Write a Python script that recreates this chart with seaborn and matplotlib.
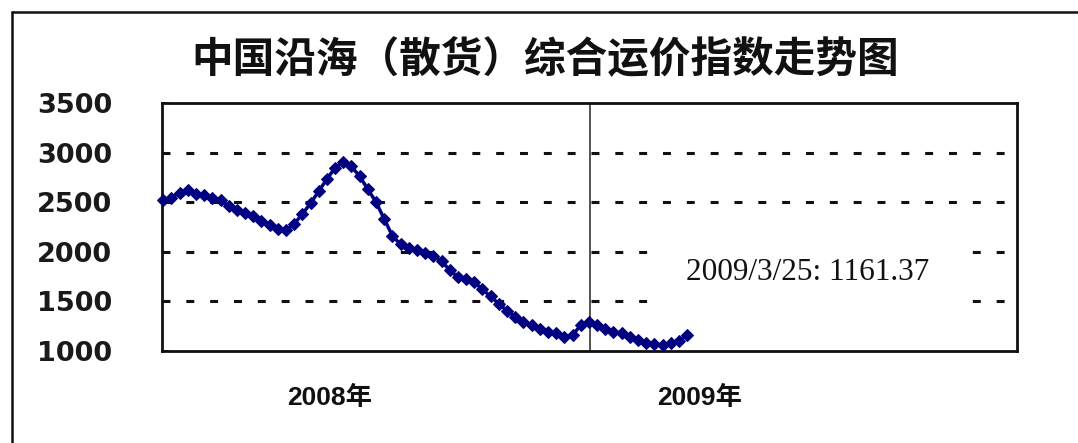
import matplotlib
matplotlib.use("Agg")
import matplotlib.pyplot as plt
from matplotlib.lines import Line2D
import seaborn as sns
import pandas as pd
import numpy as np

# ---------------- data ----------------
start_date = "2008-01-02"
index_values = [
    2525, 2545, 2595, 2620, 2580, 2572, 2545, 2520, 2460, 2425,
    2390, 2360, 2315, 2272, 2225, 2218, 2280, 2380, 2490, 2610,
    2735, 2845, 2905, 2860, 2760, 2630, 2500, 2330, 2160, 2075,
    2040, 2018, 1992, 1960, 1905, 1815, 1745, 1725, 1695, 1620,
    1550, 1475, 1405, 1345, 1290, 1260, 1220, 1190, 1178, 1140,
    1160, 1260, 1288, 1260, 1225, 1195, 1180, 1145, 1115, 1085,
    1068, 1060, 1078, 1105, 1161.37,
]
y_ticks = [1000, 1500, 2000, 2500, 3000, 3500]
grid_values = [1500, 2000, 2500, 3000]
year_labels = ["2008年", "2009年"]
divider_date = "2009-01-01"
x_range = ["2008-01-01", "2010-01-01"]
title_text = "中国沿海（散货）综合运价指数走势图"
note_text = "2009/3/25: 1161.37"

dates = pd.date_range(start_date, periods=len(index_values), freq="7D")
df = pd.DataFrame({"date": dates, "value": index_values})

# ---------------- style ----------------
sns.set_style("white")
plt.rcParams["font.family"] = ["DejaVu Sans", "Noto Sans CJK SC"]

fig = plt.figure(figsize=(10.78, 4.43), dpi=100)
ax = fig.add_axes([0.1503, 0.2077, 0.7931, 0.5598])

navy = "#000080"
for g in grid_values:
    ax.axhline(g, color="#111111", lw=2.2, ls=(0, (2.6, 5.2)), zorder=1)

ax.axvline(pd.Timestamp(divider_date), color="#444444", lw=1.3, zorder=2)

sns.lineplot(data=df, x="date", y="value", ax=ax, color=navy, lw=2.5,
             marker="D", markersize=6.5, markeredgecolor=navy,
             markerfacecolor=navy, zorder=4, clip_on=False)

ax.set_xlim(pd.Timestamp(x_range[0]), pd.Timestamp(x_range[1]))
ax.set_ylim(y_ticks[0], y_ticks[-1])
ax.set_yticks(y_ticks)
ax.set_yticklabels([str(v) for v in y_ticks], fontsize=19.5,
                   fontweight="bold", family=["DejaVu Sans"])
ax.tick_params(axis="y", direction="in", length=5, width=1.2,
               pad=36, colors="#111111", left=True)
ax.tick_params(axis="y", labelcolor="#1a1a1a")
ax.set_xticks([])
ax.set_xlabel("")
ax.set_ylabel("")

for s in ax.spines.values():
    s.set_color("#111111")
    s.set_linewidth(2.0)
    s.set_visible(True)

# year labels under the axis
for lbl, xf in zip(year_labels, [0.196, 0.629]):
    ax.text(xf, -0.19, lbl, transform=ax.transAxes, ha="center", va="center",
            fontsize=19, fontweight="bold",
            family=["Liberation Sans", "Noto Sans CJK SC"], color="#111111")

# annotation
ax.text(0.7556, 0.3185, note_text, transform=ax.transAxes, ha="center",
        va="center", fontsize=22.5, family=["Liberation Serif"],
        color="#111111", zorder=3,
        bbox=dict(facecolor="white", edgecolor="none", pad=20))

# title
fig.text(0.506, 0.866, title_text, ha="center", va="center", fontsize=30,
         fontweight="bold", family=["Noto Sans CJK SC", "DejaVu Sans"],
         color="#111111")

# outer frame (left and top edges)
fig.add_artist(Line2D([12 / 1078, 12 / 1078], [0, 1 - 12 / 443],
                      transform=fig.transFigure, color="#111111", lw=1.8))
fig.add_artist(Line2D([12 / 1078, 1.0], [1 - 12 / 443, 1 - 12 / 443],
                      transform=fig.transFigure, color="#111111", lw=1.8))

fig.savefig("out.png", dpi=100, facecolor="white")
